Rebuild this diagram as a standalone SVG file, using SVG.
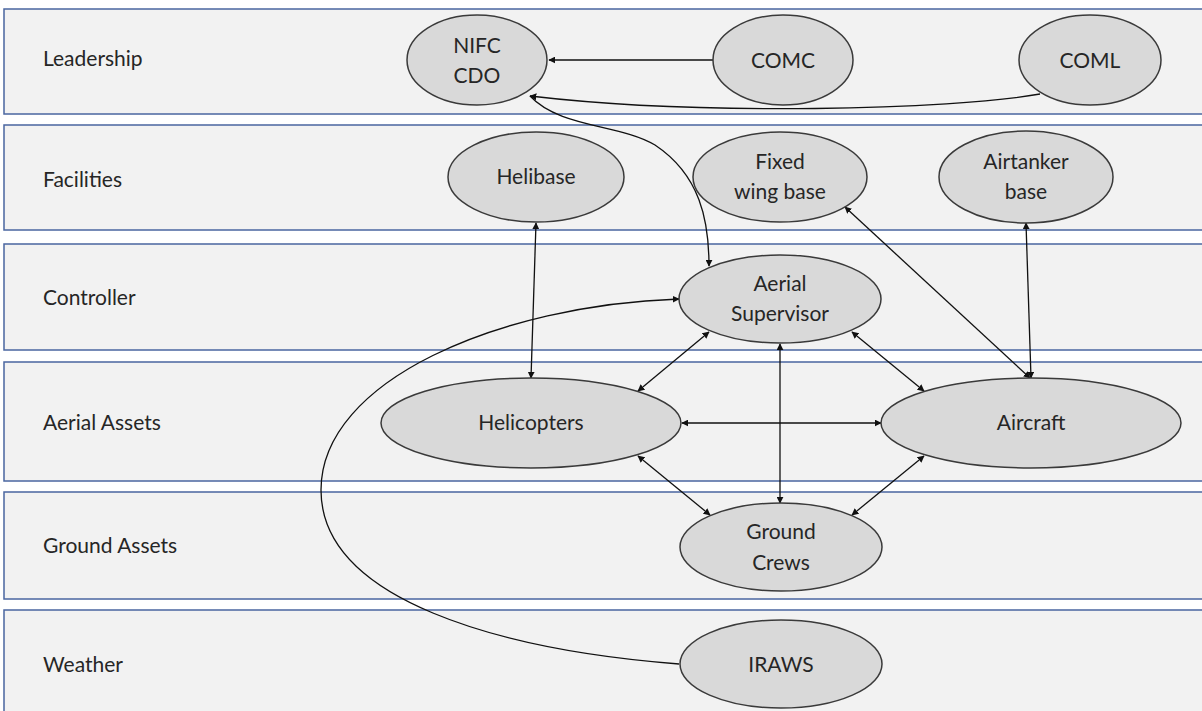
<svg xmlns="http://www.w3.org/2000/svg" width="1202" height="711" viewBox="0 0 1202 711">
  <style>
    .lane { fill: #f2f2f2; stroke: #4a66a0; stroke-width: 1.5; }
    .lane-label { font-family: Lato, "Liberation Sans", sans-serif; font-size: 21px; fill: #262626; }
    .node ellipse { fill: #d9d9d9; stroke: #3a3a3a; stroke-width: 1.5; }
    .node text { font-family: Lato, "Liberation Sans", sans-serif; font-size: 21px; fill: #262626; text-anchor: middle; }
    .edge { fill: none; stroke: #111; stroke-width: 1.3; }
  </style>
  <defs>
    <marker id="arrow" viewBox="0 0 10 10" refX="9" refY="5" markerWidth="7" markerHeight="7" markerUnits="userSpaceOnUse" orient="auto-start-reverse">
      <path d="M0,0 L10,5 L0,10 Z" fill="#111"/>
    </marker>
  </defs>

  <rect width="1202" height="711" fill="#ffffff"/>

  <!-- swimlanes -->
  <g id="lanes">
    <rect class="lane" x="4" y="9" width="1202" height="105"/>
    <rect class="lane" x="4" y="125" width="1202" height="105"/>
    <rect class="lane" x="4" y="244" width="1202" height="106"/>
    <rect class="lane" x="4" y="362" width="1202" height="119"/>
    <rect class="lane" x="4" y="492" width="1202" height="107"/>
    <rect class="lane" x="4" y="610" width="1202" height="110"/>
    <text class="lane-label" x="43" y="66">Leadership</text>
    <text class="lane-label" x="43" y="187">Facilities</text>
    <text class="lane-label" x="43" y="305">Controller</text>
    <text class="lane-label" x="43" y="430">Aerial Assets</text>
    <text class="lane-label" x="43" y="553">Ground Assets</text>
    <text class="lane-label" x="43" y="672">Weather</text>
  </g>

  <!-- connectors -->
  <g id="connectors">
    <path class="edge" d="M713,60 L549,60" marker-end="url(#arrow)"/>
    <path class="edge" d="M1040,94 C950,110 700,116 530,96" marker-end="url(#arrow)"/>
    <path class="edge" d="M530,96 C560,128 620,124 655,145 C700,175 709,220 709,266" marker-end="url(#arrow)"/>
    <path class="edge" d="M536,223 L531,378" marker-start="url(#arrow)" marker-end="url(#arrow)"/>
    <path class="edge" d="M845,207 L1030,378" marker-start="url(#arrow)" marker-end="url(#arrow)"/>
    <path class="edge" d="M1026,223 L1031,378" marker-start="url(#arrow)" marker-end="url(#arrow)"/>
    <path class="edge" d="M679,664 C500,650 321,600 321,490 C321,380 500,305 679,299" marker-end="url(#arrow)"/>
    <path class="edge" d="M709,332 L638,391" marker-start="url(#arrow)" marker-end="url(#arrow)"/>
    <path class="edge" d="M852,332 L924,391" marker-start="url(#arrow)" marker-end="url(#arrow)"/>
    <path class="edge" d="M780,344 L780,503" marker-start="url(#arrow)" marker-end="url(#arrow)"/>
    <path class="edge" d="M682,423 L881,423" marker-start="url(#arrow)" marker-end="url(#arrow)"/>
    <path class="edge" d="M638,456 L710,515" marker-start="url(#arrow)" marker-end="url(#arrow)"/>
    <path class="edge" d="M924,456 L852,515" marker-start="url(#arrow)" marker-end="url(#arrow)"/>
  </g>

  <!-- nodes -->
  <g id="nifc-cdo" class="node">
    <ellipse cx="477" cy="60" rx="70" ry="45"/>
    <text x="477" y="53">NIFC</text>
    <text x="477" y="83">CDO</text>
  </g>
  <g id="comc" class="node">
    <ellipse cx="783" cy="60" rx="70" ry="45"/>
    <text x="783" y="68">COMC</text>
  </g>
  <g id="coml" class="node">
    <ellipse cx="1090" cy="60" rx="71" ry="45"/>
    <text x="1090" y="68">COML</text>
  </g>
  <g id="helibase" class="node">
    <ellipse cx="536" cy="177" rx="88" ry="45"/>
    <text x="536" y="184">Helibase</text>
  </g>
  <g id="fixed-wing-base" class="node">
    <ellipse cx="780" cy="177" rx="87" ry="45"/>
    <text x="780" y="169">Fixed</text>
    <text x="780" y="199">wing base</text>
  </g>
  <g id="airtanker-base" class="node">
    <ellipse cx="1026" cy="177" rx="87" ry="46"/>
    <text x="1026" y="169">Airtanker</text>
    <text x="1026" y="199">base</text>
  </g>
  <g id="aerial-supervisor" class="node">
    <ellipse cx="780" cy="299" rx="101" ry="44"/>
    <text x="780" y="291">Aerial</text>
    <text x="780" y="321">Supervisor</text>
  </g>
  <g id="helicopters" class="node">
    <ellipse cx="531" cy="423" rx="150" ry="45"/>
    <text x="531" y="430">Helicopters</text>
  </g>
  <g id="aircraft" class="node">
    <ellipse cx="1031" cy="423" rx="150" ry="45"/>
    <text x="1031" y="430">Aircraft</text>
  </g>
  <g id="ground-crews" class="node">
    <ellipse cx="781" cy="547" rx="101" ry="44"/>
    <text x="781" y="539">Ground</text>
    <text x="781" y="570">Crews</text>
  </g>
  <g id="iraws" class="node">
    <ellipse cx="781" cy="664" rx="101" ry="44"/>
    <text x="781" y="672">IRAWS</text>
  </g>
</svg>
